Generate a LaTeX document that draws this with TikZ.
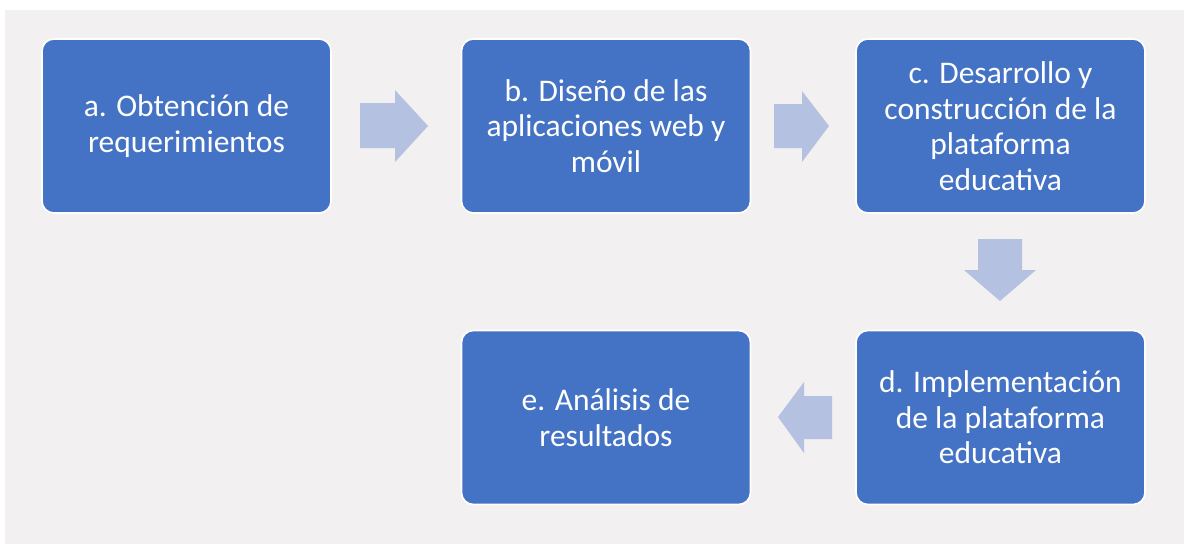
\documentclass[tikz,border=0pt]{standalone}
\usepackage{fontspec}
\setmainfont{Carlito}
\definecolor{bgc}{HTML}{F2F0F0}
\definecolor{boxc}{HTML}{4472C4}
\definecolor{arrc}{HTML}{B4C1E1}
\begin{document}
\begin{tikzpicture}[x=1pt,y=-1pt,
  box/.style={draw=white, line width=1.6pt, fill=boxc, rounded corners=12pt,
    minimum width=289pt, minimum height=174pt, text=white, align=center,
    font=\fontsize{31.5}{35.5}\selectfont, inner sep=0pt},
  bigarrow/.style={fill=arrc, draw=none}]
\useasboundingbox (0,0) rectangle (1184,544);
\fill[white] (0,0) rectangle (1184,544);
\fill[bgc] (5,10) rectangle (1184,544);
\node[box] (a) at (186.5,126) {a. Obtención de\\requerimientos};
\node[box] (b) at (606,126) {b. Diseño de las\\aplicaciones web y\\móvil};
\node[box] (c) at (1000.5,126) {c. Desarrollo y\\construcción de la\\plataforma\\educativa};
\node[box] (d) at (1000.5,417.5) {d. Implementación\\de la plataforma\\educativa};
\node[box] (e) at (606,417.5) {e. Análisis de\\resultados};
% arrows
\fill[bigarrow] (360,103) -- (395,103) -- (395,90) -- (428,126) -- (395,162) -- (395,148) -- (360,148) -- cycle;
\fill[bigarrow] (774,104) -- (802,104) -- (802,91) -- (829,126) -- (802,162) -- (802,148) -- (774,148) -- cycle;
\fill[bigarrow] (978,239) -- (1022,239) -- (1022,270) -- (1036,270) -- (1000,301) -- (964,270) -- (978,270) -- cycle;
\fill[bigarrow] (832,396) -- (804,396) -- (804,382) -- (778,417) -- (804,453) -- (804,439) -- (832,439) -- cycle;
\end{tikzpicture}
\end{document}
